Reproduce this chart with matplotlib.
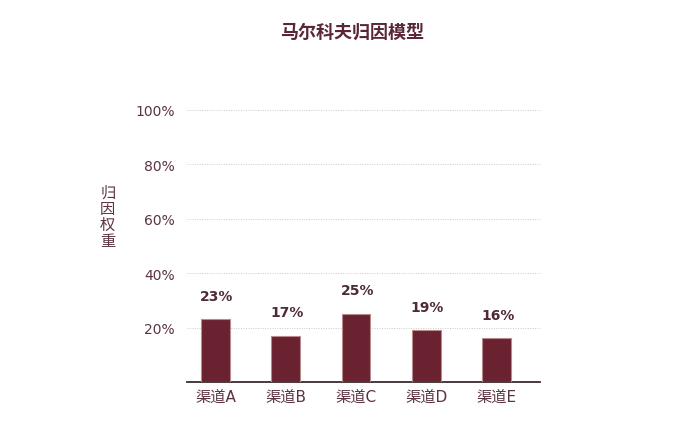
import matplotlib.pyplot as plt

plt.rcParams['font.family'] = ['DejaVu Sans', 'Noto Sans CJK SC']

# Data
channels = ["渠道A", "渠道B", "渠道C", "渠道D", "渠道E"]
weights = [23, 17, 25, 19, 16]
y_ticks = [20, 40, 60, 80, 100]
y_tick_labels = ["20%", "40%", "60%", "80%", "100%"]

bar_color = "#6b2230"
text_color = "#5b3342"

fig = plt.figure(figsize=(6.78, 4.35), dpi=100)
ax = fig.add_axes([0.276, 0.1195, 0.52, 0.6255])

x = list(range(len(channels)))
ax.bar(x, weights, width=0.41, color=bar_color, edgecolor="#b98a8c",
       linewidth=0.8, zorder=3)

# Value labels above bars
for xi, v in zip(x, weights):
    ax.annotate(f"{v}%", (xi, v), xytext=(1, 12), textcoords="offset points",
                ha="center", va="bottom", fontsize=10, fontweight="bold",
                color="#4e2a38")

ax.set_xlim(-0.405, 4.616)
ax.set_ylim(0, 100)
ax.set_yticks(y_ticks)
ax.set_yticklabels(y_tick_labels)
ax.set_xticks(x)
ax.set_xticklabels(channels)

ax.tick_params(axis="y", length=0, pad=9, labelsize=10, labelcolor=text_color)
ax.tick_params(axis="x", length=0, pad=5, labelsize=11, labelcolor=text_color)

ax.grid(axis="y", linestyle=(0, (1, 1.5)), color="#c9c9c9", linewidth=0.7,
        zorder=0)
for gl in ax.get_ygridlines():
    gl.set_clip_on(False)

for side in ["top", "right", "left"]:
    ax.spines[side].set_visible(False)
ax.spines["bottom"].set_color("#3a2a2e")
ax.spines["bottom"].set_linewidth(1.3)

fig.text(0.159, 0.5, "归\n因\n权\n重", ha="center", va="center", fontsize=11,
         color=text_color, linespacing=0.95, family="Noto Sans CJK SC")

fig.text(0.519, 0.926, "马尔科夫归因模型", ha="center", va="center",
         fontsize=13, fontweight="bold", color="#5a2638",
         family="Noto Sans CJK SC")

fig.savefig("out.png", dpi=100)
